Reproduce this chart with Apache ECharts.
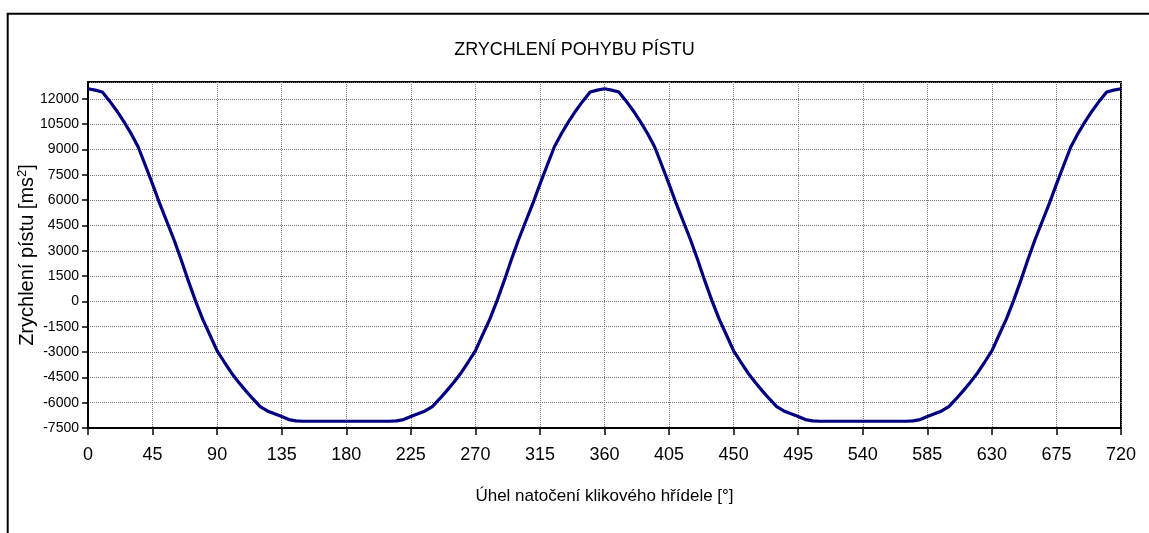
<!DOCTYPE html>
<html>
<head>
<meta charset="utf-8">
<script src="https://cdn.jsdelivr.net/npm/echarts@6/dist/echarts.min.js"></script>
<style>
    html, body { margin: 0; padding: 0; background: #fff; }
    #main { width: 1149px; height: 533px; }
</style>
</head>
<body>
<div id="main"></div>
<script>
    // úhel natočení [°]
    var uhel = [
        0, 5, 10, 15, 20, 25, 30, 35, 40, 45, 50, 55, 60, 65, 70, 75, 80, 85, 90,
        95, 100, 105, 110, 115, 120, 125, 130, 135, 140, 145, 150, 155, 160, 165, 170, 175, 180,
        185, 190, 195, 200, 205, 210, 215, 220, 225, 230, 235, 240, 245, 250, 255, 260, 265, 270,
        275, 280, 285, 290, 295, 300, 305, 310, 315, 320, 325, 330, 335, 340, 345, 350, 355, 360,
        365, 370, 375, 380, 385, 390, 395, 400, 405, 410, 415, 420, 425, 430, 435, 440, 445, 450,
        455, 460, 465, 470, 475, 480, 485, 490, 495, 500, 505, 510, 515, 520, 525, 530, 535, 540,
        545, 550, 555, 560, 565, 570, 575, 580, 585, 590, 595, 600, 605, 610, 615, 620, 625, 630,
        635, 640, 645, 650, 655, 660, 665, 670, 675, 680, 685, 690, 695, 700, 705, 710, 715, 720
    ];
    // zrychlení pístu [m/s2]
    var zrychleni = [
        12600, 12520, 12410, 11880, 11300, 10650, 9950, 9150, 8050, 6950, 5790, 4720, 3640, 2450, 1200, 15, -1065, -1990, -2930,
        -3590, -4240, -4790, -5300, -5780, -6230, -6490, -6660, -6820, -7000, -7080, -7100, -7100, -7100, -7100, -7100, -7100, -7100,
        -7100, -7100, -7100, -7100, -7100, -7100, -7080, -7000, -6820, -6660, -6490, -6230, -5780, -5300, -4790, -4240, -3590, -2930,
        -1990, -1065, 15, 1200, 2450, 3640, 4720, 5790, 6950, 8050, 9150, 9950, 10650, 11300, 11880, 12410, 12520, 12600,
        12520, 12410, 11880, 11300, 10650, 9950, 9150, 8050, 6950, 5790, 4720, 3640, 2450, 1200, 15, -1065, -1990, -2930,
        -3590, -4240, -4790, -5300, -5780, -6230, -6490, -6660, -6820, -7000, -7080, -7100, -7100, -7100, -7100, -7100, -7100, -7100,
        -7100, -7100, -7100, -7100, -7100, -7100, -7080, -7000, -6820, -6660, -6490, -6230, -5780, -5300, -4790, -4240, -3590, -2930,
        -1990, -1065, 15, 1200, 2450, 3640, 4720, 5790, 6950, 8050, 9150, 9950, 10650, 11300, 11880, 12410, 12520, 12600
    ];
    var xOsa = { min: 0, max: 720, krok: 45 };
    var yOsa = { min: -7500, max: 13000, krok: 1500 };

    var data = [];
    for (var i = 0; i < uhel.length; i++) {
        data.push([uhel[i], zrychleni[i]]);
    }

    var myChart = echarts.init(document.getElementById('main'));
    myChart.setOption({
        animation: false,
        textStyle: { fontFamily: 'Liberation Sans, Arial, sans-serif', color: '#000' },
        title: {
            text: 'ZRYCHLENÍ POHYBU PÍSTU',
            left: 'center',
            top: 36,
            textStyle: { fontSize: 18, fontWeight: 'normal', color: '#000' }
        },
        graphic: [{
            type: 'rect',
            shape: { x: 7.7, y: 13.7, width: 1200, height: 600 },
            style: { fill: 'none', stroke: '#000', lineWidth: 2 },
            silent: true
        }],
        grid: {
            left: 88, top: 82, right: 28, bottom: 105,
            show: true, borderColor: '#000', borderWidth: 2
        },
        xAxis: {
            type: 'value',
            min: xOsa.min, max: xOsa.max, interval: xOsa.krok,
            name: 'Úhel natočení klikového hřídele [°]',
            nameLocation: 'middle',
            nameGap: 60,
            nameMoveOverlap: false,
            nameTextStyle: { fontSize: 17, color: '#000' },
            axisLine: { onZero: false, lineStyle: { color: '#000', width: 2 } },
            axisTick: { show: true, length: 7, lineStyle: { color: '#000', width: 1.5 } },
            axisLabel: { fontSize: 18, color: '#000', margin: 18 },
            splitLine: { show: true, lineStyle: { color: '#777', type: [1, 1], width: 1 } }
        },
        yAxis: {
            type: 'value',
            min: yOsa.min, max: yOsa.max, interval: yOsa.krok,
            name: 'Zrychlení pístu [ms{s|2}]',
            nameLocation: 'middle',
            nameGap: 50,
            nameMoveOverlap: false,
            nameTextStyle: {
                fontSize: 20, color: '#000',
                rich: { s: { fontSize: 13, verticalAlign: 'top', padding: [0, 0, 9, 0] } }
            },
            axisLine: { onZero: false, lineStyle: { color: '#000', width: 2 } },
            axisTick: { show: true, length: 6, lineStyle: { color: '#000', width: 1.5 } },
            axisLabel: {
                fontSize: 14, color: '#000', margin: 9, showMaxLabel: false,
                formatter: function (v) { return String(v); }
            },
            splitLine: { show: true, lineStyle: { color: '#777', type: [1, 1], width: 1 } }
        },
        series: [{
            type: 'line',
            data: data,
            showSymbol: false,
            lineStyle: { color: '#000080', width: 3.2 },
            itemStyle: { color: '#000080' }
        }]
    });
</script>
</body>
</html>
